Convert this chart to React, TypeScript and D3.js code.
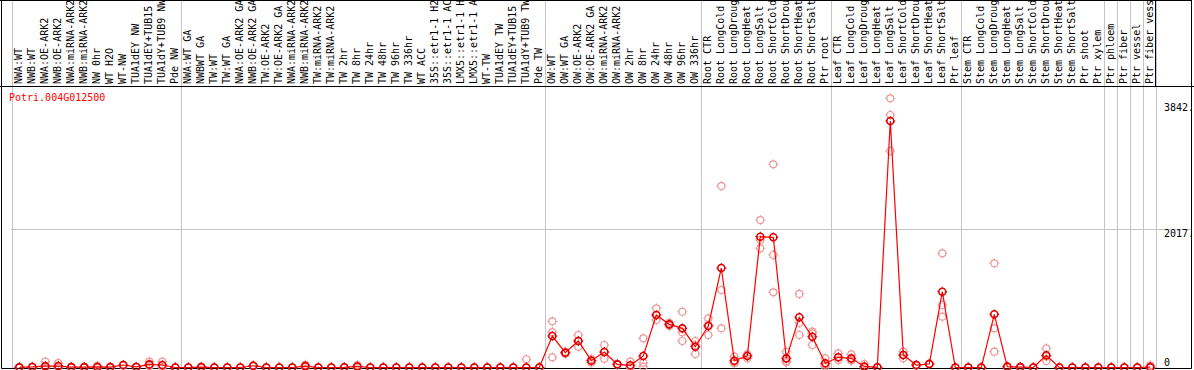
import React from "react";
import * as d3 from "d3";

const title = "Potri.004G012500";

const categories: string[] = [
  "NWA:WT", "NWB:WT", "NWA:OE-ARK2", "NWB:OE-ARK2", "NWA:miRNA-ARK2", "NWB:miRNA-ARK2",
  "NW 0hr", "WT H2O", "WT-NW", "TUA1dEY NW", "TUA1dEY+TUB15 NW", "TUA1dY+TUB9 NW", "Pde NW",
  "NWA:WT GA", "NWBWT GA", "TW:WT", "TW:WT GA", "NWA:OE-ARK2 GA", "NWB:OE-ARK2 GA",
  "TW:OE-ARK2", "TW:OE-ARK2 GA", "NWA:miRNA-ARK2", "NWB:miRNA-ARK2", "TW:miRNA-ARK2",
  "TW:miRNA-ARK2", "TW 2hr", "TW 8hr", "TW 24hr", "TW 48hr", "TW 96hr", "TW 336hr",
  "WT ACC", "35S::etr1-1 H2O", "35S::etr1-1 ACC", "LMX5::etr1-1 H2O", "LMX5::etr1-1 ACC",
  "WT-TW", "TUA1dEY TW", "TUA1dEY+TUB15 TW", "TUA1dY+TUB9 TW", "Pde TW",
  "OW:WT", "OW:WT GA", "OW:OE-ARK2", "OW:OE-ARK2 GA", "OW:miRNA-ARK2", "OW:miRNA-ARK2",
  "OW 2hr", "OW 8hr", "OW 24hr", "OW 48hr", "OW 96hr", "OW 336hr",
  "Root CTR", "Root LongCold", "Root LongDrought", "Root LongHeat", "Root LongSalt",
  "Root ShortCold", "Root ShortDrought", "Root ShortHeat", "Root ShortSalt", "Ptr root",
  "Leaf CTR", "Leaf LongCold", "Leaf LongDrought", "Leaf LongHeat", "Leaf LongSalt",
  "Leaf ShortCold", "Leaf ShortDrought", "Leaf ShortHeat", "Leaf ShortSalt", "Ptr leaf",
  "Stem CTR", "Stem LongCold", "Stem LongDrought", "Stem LongHeat", "Stem LongSalt",
  "Stem ShortCold", "Stem ShortDrought", "Stem ShortHeat", "Stem ShortSalt", "Ptr shoot",
  "Ptr xylem", "Ptr phloem", "Ptr fiber", "Ptr vessel", "Ptr fiber vessel",
];

// group boundaries (column index where a separator line is drawn)
const separators: number[] = [0, 13, 41, 53, 63, 73, 84, 85, 86, 87, 88];

const means: number[] = [
  2, 8, 20, 22, 5, 5, 8, 5, 36, 8, 45, 36, 0,
  0, 5, 0, 0, 0, 25, 0, 0, 0, 20, 0, 0, 3, 15, 0, 0, 0, 0, 0, 0, 0, 0, 0, 0, 0, 0, 0, 0,
  457, 215, 385, 99, 225, 46, 32, 167, 762, 627, 569, 302,
  603, 1445, 99, 167, 1900, 1891, 133, 729, 447, 61,
  148, 133, 15, 3, 3580, 182, 36, 51, 1101, 0,
  0, 0, 773, 12, 5, 0, 177, 0, 0, 0, 0,
  0, 0, 0, 5,
];

const replicates: number[][] = [
  [0, 3, 3], [5, 10, 10], [85, 10, 0], [65, 5, 0], [5, 5, 5], [5, 5, 5], [25, 0, 0], [5, 5, 5],
  [40, 36, 30], [8, 8, 8], [85, 30, 20], [85, 20, 5], [0, 0, 0],
  [0, 0, 0], [5, 5, 5], [0, 0, 0], [0, 0, 0], [0, 0, 0], [30, 25, 20], [0, 0, 0], [0, 0, 0],
  [0, 0, 0], [40, 15, 5], [0, 0, 0], [0, 0, 0], [3, 3, 3], [35, 10, 0], [0, 0, 0], [0, 0, 0],
  [0, 0, 0], [0, 0, 0], [0, 0, 0], [0, 0, 0], [0, 0, 0], [0, 0, 0], [0, 0, 0], [0, 0, 0],
  [0, 0, 0], [0, 0, 0], [120, 0, 0], [0, 0, 0],
  [670, 515, 148], [230, 215, 200], [472, 385, 302], [123, 99, 70], [327, 225, 128], [50, 46, 40],
  [85, 10, 0], [424, 70, 12], [860, 760, 690], [650, 627, 605], [810, 512, 385], [385, 325, 196],
  [714, 622, 472], [2636, 1126, 569], [157, 80, 61], [191, 177, 133], [2142, 1852, 1731],
  [2951, 1634, 1092], [229, 95, 75], [1068, 650, 472], [520, 495, 327], [133, 40, 10],
  [206, 148, 109], [191, 110, 100], [51, 0, 0], [5, 3, 0], [3910, 3668, 3145], [230, 182, 133],
  [40, 36, 32], [55, 51, 47], [1659, 908, 738], [0, 0, 0],
  [0, 0, 0], [0, 0, 0], [1513, 569, 230], [15, 12, 9], [5, 5, 5], [0, 0, 0], [279, 160, 94],
  [0, 0, 0], [0, 0, 0], [0, 0, 0], [0, 0, 0],
  [0, 0, 0], [0, 0, 0], [0, 0, 0], [32, 0, 0],
];

const yTicks: number[] = [3842, 2017, 0];
const yTickLabels: string[] = ["3842.", "2017.", "0"];
const gridValues: number[] = [2017];

const W = 1194;
const H = 370;
const FONT = "'DejaVu Sans Mono', monospace";

function Marker({ cx, cy, color, sw }: { cx: number; cy: number; color: string; sw: number }) {
  const r = 3.5;
  return (
    <g stroke={color} strokeWidth={sw} fill="none">
      <circle cx={cx} cy={cy} r={r} />
      <line x1={cx} x2={cx} y1={cy - r - 1.5} y2={cy - r + 0.5} strokeWidth={1} />
      <line x1={cx} x2={cx} y1={cy + r - 0.5} y2={cy + r + 1.5} strokeWidth={1} />
      <line x1={cx - r - 1.5} x2={cx - r + 0.5} y1={cy} y2={cy} strokeWidth={1} />
      <line x1={cx + r - 0.5} x2={cx + r + 1.5} y1={cy} y2={cy} strokeWidth={1} />
    </g>
  );
}

export default function App() {
  const nCols = categories.length;
  const xEdge = d3.scaleLinear().domain([0, nCols]).range([11.5, 1155.5]);
  const xc = (i: number) => xEdge(i + 0.6);
  const y = d3.scaleLinear().domain([0, 3842]).range([367.5, 103]);

  const headerBottom = 86;
  const plotLeft = 1.5;
  const plotRight = 1191.5;
  const plotBottom = 368.5;

  const line = d3
    .line<number>()
    .x((_, i) => xc(i))
    .y((d) => y(d));

  return (
    <svg
      width={W}
      height={H}
      style={{ position: "absolute", left: 0, top: 0, background: "#fff" }}
      fontFamily={FONT}
      fontSize={10}
    >
      <rect x={0} y={0} width={W} height={H} fill="#fff" />
      {/* gridlines */}
      {gridValues.map((v) => (
        <line key={v} x1={11} x2={plotRight} y1={Math.round(y(v)) + 0.5} y2={Math.round(y(v)) + 0.5} stroke="#c4c4c4" strokeWidth={1} />
      ))}
      {/* group separators */}
      {separators.map((s) => (
        <line key={s} x1={Math.round(xEdge(s)) + 0.5} x2={Math.round(xEdge(s)) + 0.5} y1={0} y2={plotBottom} stroke="#c4c4c4" strokeWidth={1} />
      ))}
      {/* header labels */}
      {categories.map((c, i) => (
        <text
          key={i}
          transform={`translate(${xc(i) + 3},${headerBottom - 2}) rotate(-90)`}
          fill="#000"
        >
          {c}
        </text>
      ))}
      {/* frame */}
      <line x1={plotLeft} x2={plotLeft} y1={0} y2={plotBottom} stroke="#000" />
      <line x1={plotRight} x2={plotRight} y1={0} y2={plotBottom} stroke="#000" />
      <line x1={0} x2={plotRight} y1={0.5} y2={0.5} stroke="#000" />
      <line x1={0} x2={W} y1={headerBottom + 0.5} y2={headerBottom + 0.5} stroke="#000" />
      <line x1={1155.5} x2={1155.5} y1={0} y2={headerBottom} stroke="#000" />
      <line x1={plotLeft} x2={plotRight} y1={plotBottom} y2={plotBottom} stroke="#000" />
      {/* title */}
      <text x={9} y={100.5} fill="#ff0000">{title}</text>
      {/* y tick labels */}
      {yTicks.map((v, k) => (
        <text key={v} x={1164} y={v === 0 ? y(v) - 1.5 : y(v) + 8} fill="#000">
          {yTickLabels[k]}
        </text>
      ))}
      {/* replicates */}
      {replicates.map((reps, i) =>
        reps.map((v, j) => <Marker key={`${i}-${j}`} cx={xc(i)} cy={y(v)} color="#ee9a9a" sw={1.2} />)
      )}
      {/* mean line */}
      <path d={line(means) || ""} fill="none" stroke="#ff0000" strokeWidth={1.2} />
      {/* means */}
      {means.map((v, i) => (
        <Marker key={i} cx={xc(i)} cy={y(v)} color="#e00000" sw={1.6} />
      ))}
    </svg>
  );
}
